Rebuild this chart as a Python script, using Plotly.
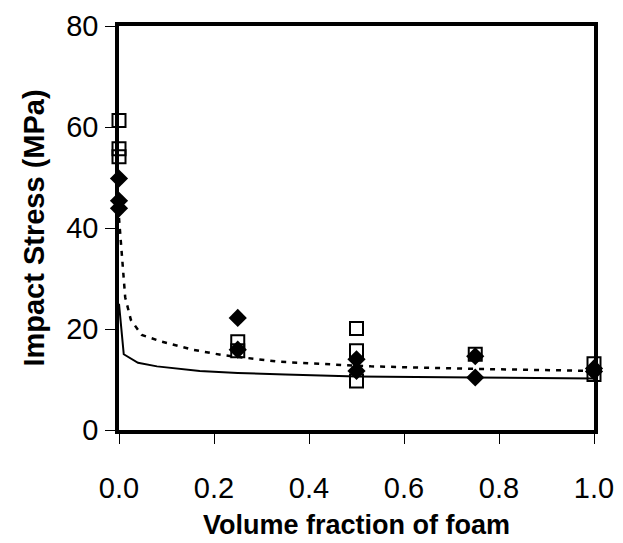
import plotly.graph_objects as go

# Data
square_x = [0, 0, 0, 0.25, 0.25, 0.5, 0.5, 0.5, 0.75, 1.0, 1.0]
square_y = [61.3, 55.7, 54.1, 17.5, 15.7, 20.1, 15.7, 9.7, 15.0, 13.1, 11.0]

diamond_x = [0, 0, 0, 0.25, 0.25, 0.5, 0.5, 0.75, 0.75, 1.0, 1.0]
diamond_y = [49.8, 45.4, 43.9, 22.2, 15.9, 14.0, 11.7, 14.6, 10.4, 12.2, 11.6]

solid_x = [0, 0.01, 0.04, 0.08, 0.17, 0.25, 0.35, 0.5, 0.75, 1.0]
solid_y = [25.0, 15.0, 13.3, 12.6, 11.7, 11.3, 11.0, 10.6, 10.4, 10.2]

dashed_x = [0, 0.003, 0.013, 0.025, 0.048, 0.09, 0.155, 0.22, 0.34, 0.53, 0.75, 1.0]
dashed_y = [42.0, 38.0, 26.3, 21.8, 18.8, 17.5, 15.9, 14.8, 13.5, 12.6, 12.1, 11.7]

x_ticks = [0.0, 0.2, 0.4, 0.6, 0.8, 1.0]
y_ticks = [0, 20, 40, 60, 80]

fig = go.Figure()
fig.add_trace(go.Scatter(x=solid_x, y=solid_y, mode="lines",
                         line=dict(color="black", width=2), cliponaxis=False,
                         showlegend=False))
fig.add_trace(go.Scatter(x=dashed_x, y=dashed_y, mode="lines",
                         line=dict(color="black", width=2.5, dash="5px,6px"),
                         cliponaxis=False, showlegend=False))
fig.add_trace(go.Scatter(x=square_x, y=square_y, mode="markers",
                         marker=dict(symbol="square-open", size=13, color="black",
                                     line=dict(width=2, color="black")),
                         cliponaxis=False, showlegend=False))
fig.add_trace(go.Scatter(x=diamond_x, y=diamond_y, mode="markers",
                         marker=dict(symbol="diamond", size=14, color="black"),
                         cliponaxis=False, showlegend=False))

font_family = "Liberation Sans, Arial, sans-serif"
fig.update_layout(
    width=623, height=543,
    margin=dict(l=111, r=37, t=18, b=121, pad=0, autoexpand=False),
    paper_bgcolor="white", plot_bgcolor="white",
    font=dict(family=font_family, color="black", size=28),
    showlegend=False,
)
fig.update_xaxes(
    range=[0, 1], tickvals=x_ticks, tickformat=".1f",
    showline=True, linecolor="black", linewidth=3.5, mirror=True,
    ticks="outside", ticklen=10, tickwidth=1, tickcolor="black",
    ticklabelstandoff=19, automargin=False, ticklabeloverflow="allow",
    showgrid=False, zeroline=False,
    tickfont=dict(size=29, family=font_family),
    title=dict(text="<b>Volume fraction of foam</b>",
               font=dict(size=27, family=font_family), standoff=14),
)
fig.update_yaxes(
    range=[0, 80], tickvals=y_ticks,
    showline=True, linecolor="black", linewidth=3.5, mirror=True,
    ticks="outside", ticklen=10, tickwidth=1, tickcolor="black",
    ticklabelstandoff=1, automargin=False, ticklabeloverflow="allow",
    showgrid=False, zeroline=False,
    tickfont=dict(size=29, family=font_family),
    title=dict(text="<b>Impact Stress (MPa)</b>",
               font=dict(size=29, family=font_family), standoff=14),
)

fig.write_html("out.html")
